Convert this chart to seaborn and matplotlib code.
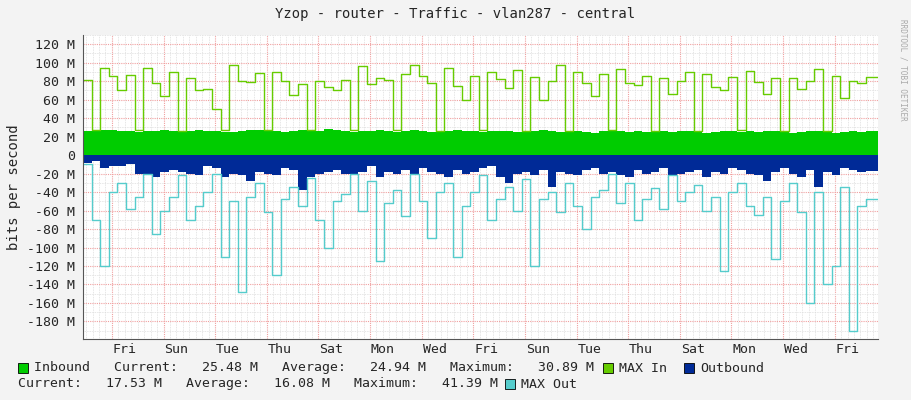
import numpy as np
import seaborn as sns
from matplotlib import pyplot as plt
from matplotlib.ticker import MultipleLocator, FixedLocator

# samples every 1/3 day starting at the left edge of the graph
inbound = [26, 26, 27, 27, 26, 26, 25, 26, 26, 27, 26, 25, 26, 27, 26, 26, 25, 25,
           26, 27, 27, 26, 26, 25, 26, 27, 26, 26, 28, 27, 26, 25, 26, 26, 27, 26,
           25, 26, 27, 26, 25, 25, 26, 27, 26, 26, 25, 26, 26, 26, 25, 25, 26, 27,
           26, 25, 26, 26, 25, 24, 26, 27, 26, 25, 26, 25, 26, 26, 25, 26, 26, 25,
           24, 25, 26, 26, 25, 26, 25, 26, 26, 25, 24, 25, 26, 26, 25, 24, 25, 26,
           25, 26]
outbound = [-9, -6, -14, -12, -12, -10, -20, -22, -24, -18, -16, -18, -20, -22, -12, -14, -24, -20,
            -22, -28, -18, -20, -22, -14, -16, -38, -24, -20, -18, -16, -20, -22, -18, -12, -24, -18,
            -20, -16, -22, -14, -18, -20, -24, -16, -20, -18, -14, -12, -24, -30, -20, -18, -22, -16,
            -34, -18, -20, -22, -16, -14, -20, -18, -22, -24, -16, -20, -18, -14, -22, -20, -18, -16,
            -24, -18, -20, -14, -16, -20, -22, -28, -18, -14, -20, -24, -16, -34, -18, -22, -14, -16,
            -18, -17]
max_in = [81, 27, 94, 86, 70, 87, 27, 94, 78, 64, 90, 26, 83, 70, 72, 50, 27, 97,
          80, 79, 89, 27, 90, 80, 65, 77, 27, 80, 74, 70, 81, 27, 96, 77, 84, 81,
          27, 88, 98, 86, 78, 26, 94, 75, 60, 86, 27, 90, 82, 73, 92, 26, 85, 60,
          80, 97, 26, 90, 78, 64, 88, 27, 93, 78, 76, 86, 26, 84, 66, 80, 90, 26,
          88, 74, 70, 85, 27, 91, 79, 66, 83, 26, 84, 72, 80, 93, 26, 86, 62, 80,
          78, 85]
max_out = [-10, -70, -120, -40, -30, -58, -45, -20, -85, -60, -45, -22, -70, -55, -40, -20, -110, -50,
           -148, -45, -30, -62, -130, -48, -35, -55, -25, -70, -100, -50, -42, -20, -60, -28, -115, -52,
           -38, -66, -20, -50, -90, -40, -30, -110, -55, -40, -22, -70, -48, -35, -60, -26, -120, -48,
           -40, -62, -30, -55, -80, -45, -38, -20, -52, -30, -70, -48, -36, -58, -22, -50, -40, -32,
           -60, -45, -125, -40, -30, -55, -65, -45, -112, -50, -30, -62, -160, -40, -140, -120, -35, -190,
           -55, -48]
day_labels = ['Fri', 'Sun', 'Tue', 'Thu', 'Sat', 'Mon', 'Wed', 'Fri',
              'Sun', 'Tue', 'Thu', 'Sat', 'Mon', 'Wed', 'Fri']

x = np.arange(len(inbound)) / 3.0
x_end = 30.8

sns.set_style('white')
plt.rcParams['font.family'] = ['DejaVu Sans Mono', 'DejaVu Sans']
fig = plt.figure(figsize=(9.11, 4.0), dpi=100, facecolor='#f3f3f3')
ax = fig.add_axes([83 / 911, 1 - 339 / 400, 795 / 911, 304 / 400])
ax.set_facecolor('white')

xs = np.append(x, x_end)
ax.fill_between(xs, np.append(inbound, inbound[-1]), step='post', color='#00cc00', lw=0)
ax.fill_between(xs, np.append(outbound, outbound[-1]), step='post', color='#002a97', lw=0)
sns.lineplot(x=xs, y=np.append(max_in, max_in[-1]), ax=ax, drawstyle='steps-post',
             color='#66cc00', lw=1)
sns.lineplot(x=xs, y=np.append(max_out, max_out[-1]), ax=ax, drawstyle='steps-post',
             color='#55cccc', lw=1)

ax.set_xlim(0, x_end)
ax.set_ylim(-199, 130)
first_mid = 1.12
majors = [first_mid + 2 * k for k in range(15)]
ax.xaxis.set_major_locator(FixedLocator(majors))
ax.xaxis.set_minor_locator(FixedLocator(np.arange(first_mid - 1, x_end, 0.25)))
ax.set_xticklabels([])
for xm, lab in zip(majors, day_labels):
    ax.text(xm + 0.5, -203, lab, ha='center', va='top', fontsize=9.5)
ax.yaxis.set_major_locator(MultipleLocator(20))
ax.yaxis.set_minor_locator(MultipleLocator(10))
ax.set_yticks(range(-180, 121, 20))
ax.set_yticklabels([('0' if v == 0 else f'{v} M') for v in range(-180, 121, 20)], fontsize=9.5)
ax.grid(which='minor', color='#dddddd', ls=(0, (1, 1)), lw=0.6)
ax.grid(which='major', axis='x', color='#f0a0a0', ls=(0, (1, 1)), lw=0.8)
ax.grid(which='major', axis='y', color='#f0a0a0', ls=(0, (1, 1)), lw=0.8)
ax.set_axisbelow(True)
ax.tick_params(axis='both', length=0, pad=6)
sns.despine(ax=ax, top=True, right=True)
for s in ('left', 'bottom'):
    ax.spines[s].set_color('#555555')
    ax.spines[s].set_linewidth(0.8)
ax.axhline(0, color='#555555', lw=0.6, zorder=0.5)
ax.set_ylabel('bits per second', fontsize=10, labelpad=4)

fig.text(0.5, 1 - 14 / 400, 'Yzop - router - Traffic - vlan287 - central',
         ha='center', va='center', fontsize=10)
fig.text(1 - 8 / 911, 1 - 70 / 400, 'RRDTOOL / TOBI OETIKER', rotation=270,
         ha='center', va='center', fontsize=5.5, color='#aaaaaa')

fs = 9.5
def box(px, py, col):
    fig.patches.append(plt.Rectangle((px / 911, 1 - (py + 5) / 400), 10 / 911, 10 / 400,
                                     transform=fig.transFigure, facecolor=col,
                                     edgecolor='black', lw=0.6))
box(18, 368, '#00cc00')
fig.text(34 / 911, 1 - 368 / 400,
         'Inbound   Current:   25.48 M   Average:   24.94 M   Maximum:   30.89 M',
         va='center', fontsize=fs)
box(603, 368, '#66cc00')
fig.text(619 / 911, 1 - 368 / 400, 'MAX In', va='center', fontsize=fs)
box(684, 368, '#002a97')
fig.text(700 / 911, 1 - 368 / 400, 'Outbound', va='center', fontsize=fs)
fig.text(18 / 911, 1 - 384 / 400,
         'Current:   17.53 M   Average:   16.08 M   Maximum:   41.39 M',
         va='center', fontsize=fs)
box(505, 384, '#55cccc')
fig.text(521 / 911, 1 - 384 / 400, 'MAX Out', va='center', fontsize=fs)

fig.savefig('out.png', dpi=100, facecolor=fig.get_facecolor())
